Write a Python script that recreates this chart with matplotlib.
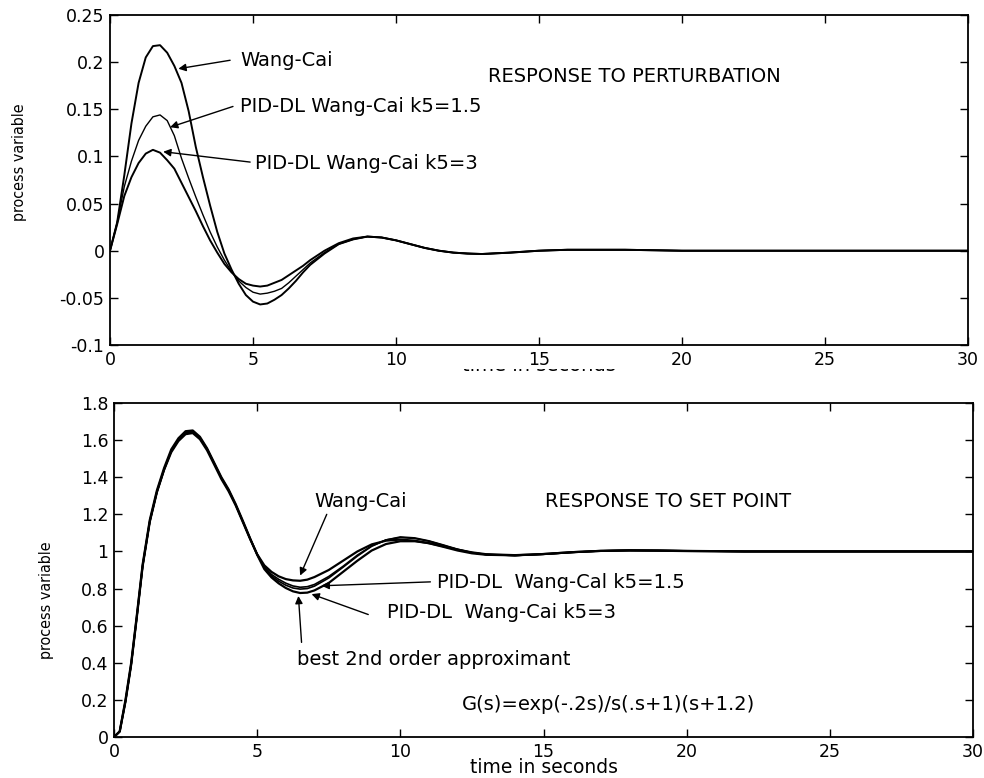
# two-panel step response plot (perturbation / set point), MATLAB-style look

import matplotlib
matplotlib.use("Agg")
import matplotlib.pyplot as plt
from matplotlib.patches import Rectangle
from matplotlib.transforms import IdentityTransform

plt.rcParams['axes.unicode_minus'] = False
plt.rcParams['font.family'] = 'DejaVu Sans'

# ---- response to perturbation (top) ----
t_pert = [0, 0.25, 0.5, 0.75, 1.0, 1.25, 1.5, 1.75, 2.0, 2.25, 2.5, 2.75, 3.0, 3.25,
          3.5, 3.75, 4.0, 4.25, 4.5, 4.75, 5.0, 5.25, 5.5, 5.75, 6.0, 6.25, 6.5, 6.75,
          7.0, 7.5, 8.0, 8.5, 9.0, 9.5, 10, 10.5, 11, 11.5, 12, 12.5, 13, 14, 15, 16,
          17, 18, 20, 22, 25, 30]
pert_wang = [0, 0.03, 0.08, 0.135, 0.178, 0.205, 0.217, 0.218, 0.21, 0.196, 0.178, 0.148,
             0.11, 0.078, 0.048, 0.02, -0.003, -0.02, -0.035, -0.047, -0.054, -0.057,
             -0.056, -0.052, -0.047, -0.040, -0.032, -0.023, -0.015, -0.003, 0.007, 0.012,
             0.015, 0.014, 0.011, 0.007, 0.003, 0.0, -0.002, -0.003, -0.0035, -0.002, 0.0,
             0.001, 0.001, 0.001, 0.0, 0.0, 0.0, 0.0]
pert_k15 = [0, 0.03, 0.068, 0.095, 0.117, 0.132, 0.142, 0.144, 0.138, 0.122, 0.098, 0.077,
            0.057, 0.038, 0.02, 0.004, -0.01, -0.022, -0.032, -0.039, -0.044, -0.046,
            -0.045, -0.043, -0.040, -0.034, -0.027, -0.020, -0.013, -0.002, 0.007, 0.012,
            0.015, 0.014, 0.011, 0.007, 0.003, 0.0, -0.002, -0.003, -0.0035, -0.002, 0.0,
            0.001, 0.001, 0.001, 0.0, 0.0, 0.0, 0.0]
pert_k3 = [0, 0.028, 0.058, 0.078, 0.093, 0.103, 0.107, 0.104, 0.096, 0.087, 0.072, 0.057,
           0.042, 0.026, 0.011, -0.002, -0.014, -0.023, -0.030, -0.035, -0.037, -0.038,
           -0.037, -0.034, -0.031, -0.026, -0.021, -0.016, -0.010, 0.0, 0.008, 0.013,
           0.015, 0.014, 0.011, 0.007, 0.003, 0.0, -0.002, -0.003, -0.0035, -0.002, 0.0,
           0.001, 0.001, 0.001, 0.0, 0.0, 0.0, 0.0]

# ---- response to set point (bottom) ----
t_sp = [0, 0.2, 0.4, 0.6, 0.8, 1.0, 1.25, 1.5, 1.75, 2.0, 2.25, 2.5, 2.75, 3.0, 3.25,
        3.5, 3.75, 4.0, 4.25, 4.5, 4.75, 5.0, 5.25, 5.5, 5.75, 6.0, 6.25, 6.5, 6.75,
        7.0, 7.5, 8.0, 8.5, 9.0, 9.5, 10, 10.5, 11, 11.5, 12, 12.5, 13, 14, 15, 16,
        17, 18, 19, 20, 22, 25, 30]
sp_wang = [0, 0.03, 0.19, 0.39, 0.65, 0.92, 1.16, 1.32, 1.44, 1.535, 1.595, 1.632, 1.638,
           1.605, 1.545, 1.468, 1.39, 1.325, 1.248, 1.158, 1.068, 0.985, 0.925, 0.89,
           0.866, 0.851, 0.844, 0.842, 0.848, 0.862, 0.9, 0.95, 1.0, 1.038, 1.058, 1.064,
           1.058, 1.044, 1.025, 1.005, 0.99, 0.982, 0.979, 0.986, 0.996, 1.003, 1.006,
           1.005, 1.003, 1.0, 1.0, 1.0]
sp_k15 = [0, 0.03, 0.19, 0.39, 0.65, 0.92, 1.16, 1.32, 1.44, 1.54, 1.6, 1.638, 1.645,
          1.61, 1.55, 1.472, 1.395, 1.33, 1.25, 1.16, 1.07, 0.985, 0.918, 0.876, 0.85,
          0.829, 0.814, 0.807, 0.81, 0.822, 0.865, 0.92, 0.98, 1.03, 1.062, 1.075, 1.07,
          1.055, 1.033, 1.01, 0.993, 0.983, 0.978, 0.985, 0.995, 1.003, 1.006, 1.005,
          1.003, 1.0, 1.0, 1.0]
sp_k3 = [0, 0.03, 0.19, 0.39, 0.65, 0.92, 1.16, 1.32, 1.44, 1.54, 1.6, 1.64, 1.647,
         1.613, 1.553, 1.475, 1.397, 1.332, 1.252, 1.162, 1.07, 0.983, 0.912, 0.868, 0.84,
         0.818, 0.803, 0.797, 0.8, 0.813, 0.857, 0.915, 0.975, 1.028, 1.062, 1.078, 1.073,
         1.057, 1.035, 1.012, 0.994, 0.984, 0.978, 0.985, 0.995, 1.003, 1.006, 1.005,
         1.003, 1.0, 1.0, 1.0]
sp_approx = [0, 0.03, 0.2, 0.4, 0.66, 0.93, 1.17, 1.33, 1.45, 1.55, 1.61, 1.648, 1.652,
             1.618, 1.556, 1.478, 1.4, 1.335, 1.255, 1.165, 1.072, 0.982, 0.905, 0.86,
             0.828, 0.803, 0.785, 0.776, 0.778, 0.79, 0.83, 0.89, 0.95, 1.005, 1.04, 1.055,
             1.055, 1.045, 1.028, 1.01, 0.995, 0.985, 0.98, 0.986, 0.996, 1.003, 1.005,
             1.004, 1.002, 1.0, 1.0, 1.0]

pert_yticks = [-0.1, -0.05, 0, 0.05, 0.1, 0.15, 0.2, 0.25]
pert_ylabels = ['-0.1', '-0.05', '0', '0.05', '0.1', '0.15', '0.2', '0.25']
sp_yticks = [0, 0.2, 0.4, 0.6, 0.8, 1.0, 1.2, 1.4, 1.6, 1.8]
sp_ylabels = ['0', '0.2', '0.4', '0.6', '0.8', '1', '1.2', '1.4', '1.6', '1.8']
xticks = [0, 5, 10, 15, 20, 25, 30]
xlabels = ['0', '5', '10', '15', '20', '25', '30']

W, H = 984, 778
fig = plt.figure(figsize=(W / 100, H / 100), dpi=100)
ax1 = fig.add_axes([110 / W, 1 - 345 / H, 858 / W, 330 / H])
ax2 = fig.add_axes([114 / W, 1 - 737 / H, 859 / W, 334 / H])

tick_font = 12.5
note_font = 14
arrow = dict(arrowstyle='-|>', color='k', lw=1.0, mutation_scale=11, shrinkA=0, shrinkB=0)


def style(ax, yticks, ylabels, ylim):
    ax.set_xlim(0, 30)
    ax.set_ylim(*ylim)
    ax.set_xticks(xticks)
    ax.set_xticklabels(xlabels)
    ax.set_yticks(yticks)
    ax.set_yticklabels(ylabels)
    ax.tick_params(direction='in', length=6, width=1, top=True, right=True,
                   labelsize=tick_font, pad=4)
    for s in ax.spines.values():
        s.set_linewidth(1.3)


# top panel
ax1.plot(t_pert, pert_wang, color='k', lw=1.4)
ax1.plot(t_pert, pert_k15, color='k', lw=1.0)
ax1.plot(t_pert, pert_k3, color='k', lw=1.4)
style(ax1, pert_yticks, pert_ylabels, (-0.1, 0.25))

ax1.text(4.55, 0.2015, 'Wang-Cai', fontsize=note_font, va='center')
ax1.annotate('', xy=(2.39, 0.193), xytext=(4.2, 0.202), arrowprops=arrow)
ax1.text(13.2, 0.1845, 'RESPONSE TO PERTURBATION', fontsize=note_font, va='center')
ax1.text(4.55, 0.153, 'PID-DL Wang-Cai k5=1.5', fontsize=note_font, va='center')
ax1.annotate('', xy=(2.1, 0.131), xytext=(4.3, 0.153), arrowprops=arrow)
ax1.text(5.07, 0.093, 'PID-DL Wang-Cai k5=3', fontsize=note_font, va='center')
ax1.annotate('', xy=(1.86, 0.105), xytext=(4.9, 0.094), arrowprops=arrow)

fig.text(20 / W, 1 - 162 / H, 'process variable', rotation=90, ha='center', va='center',
         fontsize=11.5, fontstretch='condensed')

# top x label is mostly hidden in the original: only its lower edge shows.
# text goes under a white strip, which in turn goes under the axes (tick labels stay on top)
fig.text(539 / W, 1 - 371 / H, 'time in seconds', ha='center', va='baseline',
         fontsize=note_font, zorder=-2)
fig.add_artist(Rectangle((420, H - 369), 240, 24, transform=IdentityTransform(),
                         facecolor='white', edgecolor='none', zorder=-1))

# bottom panel
ax2.plot(t_sp, sp_approx, color='k', lw=1.6)
ax2.plot(t_sp, sp_k3, color='k', lw=1.2)
ax2.plot(t_sp, sp_k15, color='k', lw=1.2)
ax2.plot(t_sp, sp_wang, color='k', lw=1.6)
style(ax2, sp_yticks, sp_ylabels, (0, 1.8))

ax2.text(7.0, 1.27, 'Wang-Cai', fontsize=note_font, va='center')
ax2.annotate('', xy=(6.5, 0.87), xytext=(7.43, 1.2), arrowprops=arrow)
ax2.text(15.05, 1.27, 'RESPONSE TO SET POINT', fontsize=note_font, va='center')
ax2.text(11.27, 0.83, 'PID-DL  Wang-Cal k5=1.5', fontsize=note_font, va='center')
ax2.annotate('', xy=(7.25, 0.815), xytext=(11.05, 0.836), arrowprops=arrow)
ax2.text(9.52, 0.67, 'PID-DL  Wang-Cai k5=3', fontsize=note_font, va='center')
ax2.annotate('', xy=(6.9, 0.77), xytext=(8.88, 0.66), arrowprops=arrow)
ax2.text(6.38, 0.42, 'best 2nd order approximant', fontsize=note_font, va='center')
ax2.annotate('', xy=(6.44, 0.76), xytext=(6.55, 0.51), arrowprops=arrow)
ax2.text(12.14, 0.175, 'G(s)=exp(-.2s)/s(.s+1)(s+1.2)', fontsize=note_font, va='center')

fig.text(543.5 / W, 1 - 773 / H, 'time in seconds', ha='center', va='baseline',
         fontsize=13.5)
fig.text(47 / W, 1 - 600 / H, 'process variable', rotation=90, ha='center', va='center',
         fontsize=11.5, fontstretch='condensed')

fig.savefig('out.png', dpi=100)
